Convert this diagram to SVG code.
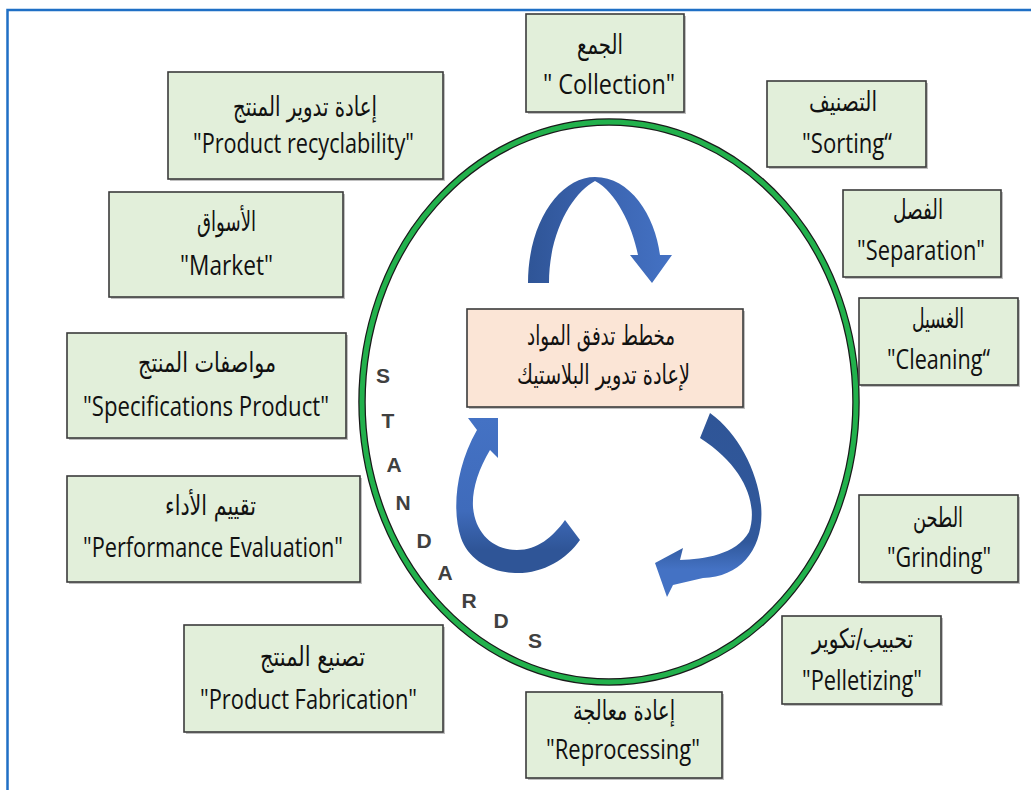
<svg xmlns="http://www.w3.org/2000/svg" width="1031" height="790" viewBox="0 0 1031 790">
  <defs>
    <style>
      .box{fill:#e2efda;stroke:#3b3b3b;stroke-width:1.6}
      .core{fill:#fbe5d6;stroke:#3b3b3b;stroke-width:1.6}
      .shadow{fill:#8c8c8c;opacity:.55}
      .ar{font-family:"DejaVu Sans",sans-serif;font-size:27px;fill:#111;text-anchor:middle}
      .en{font-family:"Open Sans","Liberation Sans",sans-serif;font-size:27px;fill:#111;text-anchor:middle}
      .std{font-family:"Liberation Sans",Arial,sans-serif;font-weight:bold;font-size:21px;fill:#404040;text-anchor:middle}
    </style>
    <linearGradient id="gTop" x1="0" y1="0" x2="1" y2="0">
      <stop offset="0" stop-color="#2f5597"/>
      <stop offset="0.45" stop-color="#3a62ad"/>
      <stop offset="1" stop-color="#4472c4"/>
    </linearGradient>
    <linearGradient id="gLeft" x1="0" y1="0" x2="0" y2="1">
      <stop offset="0" stop-color="#4472c4"/>
      <stop offset="0.6" stop-color="#3f6bbb"/>
      <stop offset="0.85" stop-color="#2f5597"/>
      <stop offset="1" stop-color="#2f5597"/>
    </linearGradient>
    <linearGradient id="gRight" x1="0" y1="0" x2="0" y2="1">
      <stop offset="0" stop-color="#2f5597"/>
      <stop offset="0.7" stop-color="#30589b"/>
      <stop offset="0.85" stop-color="#4472c4"/>
      <stop offset="1" stop-color="#4472c4"/>
    </linearGradient>
  </defs>

  <rect width="1031" height="790" fill="#ffffff"/>
  <!-- outer frame -->
  <path d="M7.5,790 V10 H1031" fill="none" stroke="#1f6fc5" stroke-width="2.5"/>

  <!-- standards ring -->
  <g id="ring">
    <ellipse cx="609" cy="402" rx="247" ry="280" fill="none" stroke="#1a1a1a" stroke-width="7.5"/>
    <ellipse cx="609" cy="402" rx="247" ry="280" fill="none" stroke="#22b14c" stroke-width="5"/>
  </g>

  <g id="standards-label">
    <text class="std" x="383" y="383">S</text>
    <text class="std" x="388" y="428">T</text>
    <text class="std" x="394" y="472">A</text>
    <text class="std" x="403" y="510">N</text>
    <text class="std" x="424" y="548">D</text>
    <text class="std" x="445" y="580">A</text>
    <text class="std" x="469" y="608">R</text>
    <text class="std" x="501" y="628">D</text>
    <text class="std" x="535" y="648">S</text>
  </g>

  <!-- cycle arrows -->
  <g id="flow-arrows">
    <path fill="url(#gTop)" d="M528,283 C528,222 560,177 595,177 C630,177 655,215 660,255 L672,255 L652,283 L630,255 L638,255 C632,225 616,192 595,181 C574,192 549,230 549,283 Z"/>
    <path fill="url(#gLeft)" d="M477,430 L468,418 L498,418 L498,458 L490,450 C478,470 472,490 473,507 C475,532 492,550 517,550 C537,550 553,537 565,520 L580,540 C566,560 542,574 515,573 C488,572 468,558 461,538 C452,512 455,468 477,430 Z"/>
    <path fill="url(#gRight)" d="M710,413 C738,433 757,470 761,505 C765,547 742,577 703,578 L673,585 L667,597 L655,563 L683,548 L680,560 C704,559 736,555 749,532 C758,507 747,468 700,438 Z"/>
  </g>

  <g id="node-center">
    <rect class="shadow" x="469" y="311" width="276" height="98"/>
    <rect class="core" x="467" y="309" width="276" height="98"/>
    <text class="ar" x="601" y="345" textLength="148" lengthAdjust="spacingAndGlyphs">مخطط تدفق المواد</text>
    <text class="ar" x="603.5" y="384" textLength="173" lengthAdjust="spacingAndGlyphs">لإعادة تدوير البلاستيك</text>
  </g>

  <g id="node-collection">
    <rect class="shadow" x="528" y="16" width="158" height="98"/>
    <rect class="box" x="526" y="14" width="158" height="98"/>
    <text class="ar" x="600" y="54" textLength="46" lengthAdjust="spacingAndGlyphs">الجمع</text>
    <text class="en" x="609" y="94" textLength="132" lengthAdjust="spacingAndGlyphs">" Collection"</text>
  </g>

  <g id="node-recyclability">
    <rect class="shadow" x="170" y="74" width="275" height="107"/>
    <rect class="box" x="168" y="72" width="275" height="107"/>
    <text class="ar" x="305" y="116" textLength="144" lengthAdjust="spacingAndGlyphs">إعادة تدوير  المنتج</text>
    <text class="en" x="303.5" y="153" textLength="221" lengthAdjust="spacingAndGlyphs">"Product recyclability"</text>
  </g>

  <g id="node-sorting">
    <rect class="shadow" x="769" y="83" width="159" height="86"/>
    <rect class="box" x="767" y="81" width="159" height="86"/>
    <text class="ar" x="843" y="111" textLength="68" lengthAdjust="spacingAndGlyphs">التصنيف</text>
    <text class="en" x="847" y="153" textLength="90" lengthAdjust="spacingAndGlyphs">"Sorting“</text>
  </g>

  <g id="node-separation">
    <rect class="shadow" x="845" y="192" width="158" height="87"/>
    <rect class="box" x="843" y="190" width="158" height="87"/>
    <text class="ar" x="918" y="219" textLength="50" lengthAdjust="spacingAndGlyphs">الفصل</text>
    <text class="en" x="921" y="260" textLength="128" lengthAdjust="spacingAndGlyphs">"Separation"</text>
  </g>

  <g id="node-market">
    <rect class="shadow" x="111" y="194" width="234" height="105"/>
    <rect class="box" x="109" y="192" width="234" height="105"/>
    <text class="ar" x="226.5" y="231" textLength="59" lengthAdjust="spacingAndGlyphs">الأسواق</text>
    <text class="en" x="226.5" y="275" textLength="93" lengthAdjust="spacingAndGlyphs">"Market"</text>
  </g>

  <g id="node-cleaning">
    <rect class="shadow" x="861" y="300" width="159" height="87"/>
    <rect class="box" x="859" y="298" width="159" height="87"/>
    <text class="ar" x="938" y="328" textLength="52" lengthAdjust="spacingAndGlyphs">الغسيل</text>
    <text class="en" x="938.5" y="369" textLength="103" lengthAdjust="spacingAndGlyphs">"Cleaning“</text>
  </g>

  <g id="node-specifications">
    <rect class="shadow" x="69" y="335" width="279" height="105"/>
    <rect class="box" x="67" y="333" width="279" height="105"/>
    <text class="ar" x="207" y="372" textLength="138" lengthAdjust="spacingAndGlyphs">مواصفات المنتج</text>
    <text class="en" x="206" y="416" textLength="246" lengthAdjust="spacingAndGlyphs">"Specifications Product"</text>
  </g>

  <g id="node-performance">
    <rect class="shadow" x="69" y="478" width="293" height="106"/>
    <rect class="box" x="67" y="476" width="293" height="106"/>
    <text class="ar" x="210.5" y="515" textLength="91" lengthAdjust="spacingAndGlyphs">تقييم الأداء</text>
    <text class="en" x="213" y="557" textLength="260" lengthAdjust="spacingAndGlyphs">"Performance Evaluation"</text>
  </g>

  <g id="node-grinding">
    <rect class="shadow" x="861" y="497" width="159" height="87"/>
    <rect class="box" x="859" y="495" width="159" height="87"/>
    <text class="ar" x="938" y="527" textLength="50" lengthAdjust="spacingAndGlyphs">الطحن</text>
    <text class="en" x="939" y="567" textLength="104" lengthAdjust="spacingAndGlyphs">"Grinding"</text>
  </g>

  <g id="node-pelletizing">
    <rect class="shadow" x="784" y="618" width="159" height="88"/>
    <rect class="box" x="782" y="616" width="159" height="88"/>
    <text class="ar" x="862.5" y="648" textLength="101" lengthAdjust="spacingAndGlyphs">تحبيب/تكوير</text>
    <text class="en" x="862" y="690" textLength="120" lengthAdjust="spacingAndGlyphs">"Pelletizing"</text>
  </g>

  <g id="node-fabrication">
    <rect class="shadow" x="186" y="627" width="259" height="107"/>
    <rect class="box" x="184" y="625" width="259" height="107"/>
    <text class="ar" x="312.5" y="666" textLength="105" lengthAdjust="spacingAndGlyphs">تصنيع المنتج</text>
    <text class="en" x="308.5" y="709" textLength="217" lengthAdjust="spacingAndGlyphs">"Product Fabrication"</text>
  </g>

  <g id="node-reprocessing">
    <rect class="shadow" x="528" y="694" width="196" height="86"/>
    <rect class="box" x="526" y="692" width="196" height="86"/>
    <text class="ar" x="624" y="720" textLength="102" lengthAdjust="spacingAndGlyphs">إعادة معالجة</text>
    <text class="en" x="623" y="759" textLength="154" lengthAdjust="spacingAndGlyphs">"Reprocessing"</text>
  </g>
</svg>
